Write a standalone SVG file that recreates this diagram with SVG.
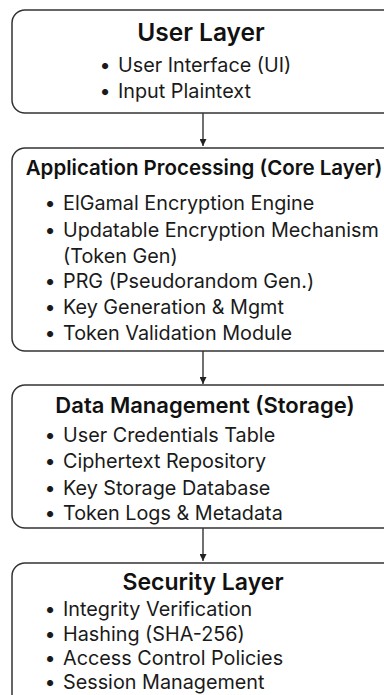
<svg xmlns="http://www.w3.org/2000/svg" width="384" height="695" viewBox="0 0 384 695">
<defs>
<marker id="ah" viewBox="0 0 10 10" refX="10" refY="5" markerWidth="7" markerHeight="7" orient="auto" markerUnits="userSpaceOnUse"><path d="M0,0 L10,5 L0,10 z" fill="#222"/></marker>
</defs>
<style>
.box{fill:#fff;stroke:#333;stroke-width:1.5}
.t{font-family:Inter,"Noto Sans",sans-serif;font-weight:600;fill:#111;text-anchor:middle}
.b{font-family:Inter,"Noto Sans",sans-serif;font-size:19.8px;fill:#1a1a1a}
.d{font-family:Inter,"Noto Sans",sans-serif;font-size:19.8px;fill:#1a1a1a;text-anchor:middle}
.c{stroke:#222;stroke-width:1.3;fill:none}
</style>
<rect width="384" height="695" fill="#fff"/>
<g id="connectors">
<line class="c" x1="203" y1="113" x2="203" y2="146" marker-end="url(#ah)"/>
<line class="c" x1="203" y1="351" x2="203" y2="384" marker-end="url(#ah)"/>
<line class="c" x1="203" y1="528" x2="203" y2="561" marker-end="url(#ah)"/>
</g>
<g id="user-layer">
<rect class="box" x="12" y="10" width="390" height="103" rx="13"/>
<text class="t" x="201" y="41" font-size="24.5">User Layer</text>
<text class="d" x="105" y="72">•</text><text class="b" x="118" y="72">User Interface (UI)</text>
<text class="d" x="105" y="98">•</text><text class="b" x="118" y="98">Input Plaintext</text>
</g>
<g id="application-processing">
<rect class="box" x="12" y="148" width="390" height="203" rx="13"/>
<text class="t" x="204" y="175" font-size="20.5">Application Processing (Core Layer)</text>
<text class="d" x="50" y="210">•</text><text class="b" x="63" y="210">ElGamal Encryption Engine</text>
<text class="d" x="50" y="237">•</text><text class="b" x="63" y="237">Updatable Encryption Mechanism</text>
<text class="b" x="63" y="263">(Token Gen)</text>
<text class="d" x="50" y="288">•</text><text class="b" x="63" y="288">PRG (Pseudorandom Gen.)</text>
<text class="d" x="50" y="314">•</text><text class="b" x="63" y="314">Key Generation &amp; Mgmt</text>
<text class="d" x="50" y="340">•</text><text class="b" x="63" y="340">Token Validation Module</text>
</g>
<g id="data-management">
<rect class="box" x="12" y="385" width="390" height="143" rx="13"/>
<text class="t" x="205" y="413" font-size="22">Data Management (Storage)</text>
<text class="d" x="50" y="442">•</text><text class="b" x="63" y="442">User Credentials Table</text>
<text class="d" x="50" y="468">•</text><text class="b" x="63" y="468">Ciphertext Repository</text>
<text class="d" x="50" y="495">•</text><text class="b" x="63" y="495">Key Storage Database</text>
<text class="d" x="50" y="520">•</text><text class="b" x="63" y="520">Token Logs &amp; Metadata</text>
</g>
<g id="security-layer">
<rect class="box" x="12" y="563" width="390" height="150" rx="13"/>
<text class="t" x="203" y="590" font-size="23">Security Layer</text>
<text class="d" x="50" y="616">•</text><text class="b" x="63" y="616">Integrity Verification</text>
<text class="d" x="50" y="641">•</text><text class="b" x="63" y="641">Hashing (SHA-256)</text>
<text class="d" x="50" y="665">•</text><text class="b" x="63" y="665">Access Control Policies</text>
<text class="d" x="50" y="689">•</text><text class="b" x="63" y="689">Session Management</text>
</g>
</svg>
